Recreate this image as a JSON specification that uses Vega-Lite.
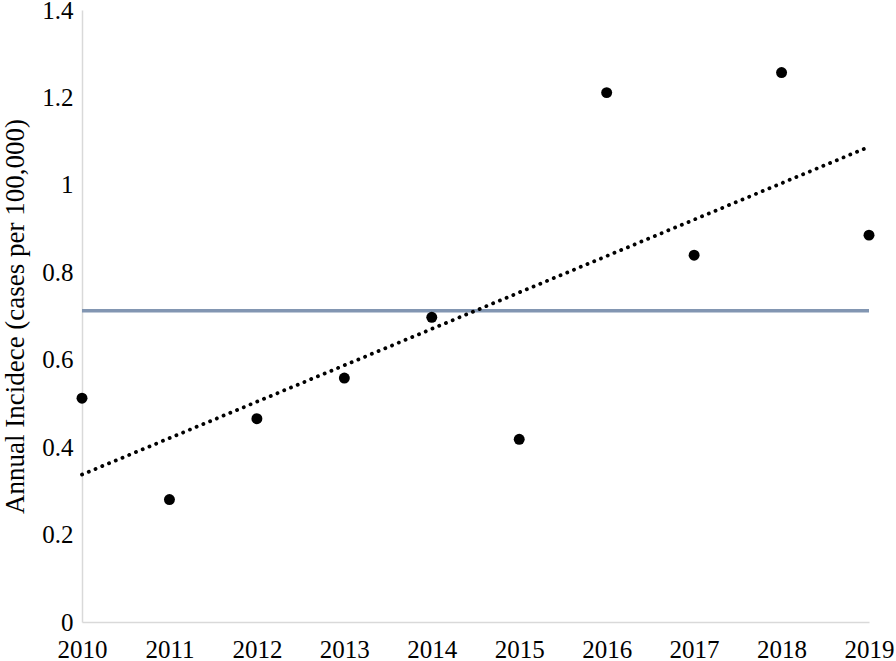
{
  "$schema": "https://vega.github.io/schema/vega-lite/v6.json",
  "width": 787,
  "height": 612,
  "autosize": "none",
  "padding": {"left": 82, "top": 10, "right": 27, "bottom": 39},
  "background": "white",
  "config": {
    "view": {"stroke": null},
    "font": "Liberation Serif",
    "axis": {
      "grid": false,
      "ticks": false,
      "domainColor": "#d9d9d9",
      "domainWidth": 1.5,
      "labelFont": "Liberation Serif",
      "labelFontSize": 25,
      "labelColor": "#000000",
      "titleFont": "Liberation Serif",
      "titleFontWeight": "normal",
      "titleColor": "#000000"
    }
  },
  "data": {
    "values": [
      {"year": 2010, "value": 0.512},
      {"year": 2011, "value": 0.280},
      {"year": 2012, "value": 0.465},
      {"year": 2013, "value": 0.558},
      {"year": 2014, "value": 0.697},
      {"year": 2015, "value": 0.418},
      {"year": 2016, "value": 1.211},
      {"year": 2017, "value": 0.839},
      {"year": 2018, "value": 1.257},
      {"year": 2019, "value": 0.885}
    ]
  },
  "layer": [
    {
      "mark": {"type": "rule", "color": "#8296b2", "strokeWidth": 3.5},
      "encoding": {
        "y": {"aggregate": "mean", "field": "value", "type": "quantitative", "scale": {"domain": [0, 1.4]}}
      }
    },
    {
      "transform": [
        {"regression": "value", "on": "year", "extent": [2010, 2019]}
      ],
      "mark": {"type": "line", "color": "#000000", "strokeWidth": 3.8, "strokeCap": "round", "strokeDash": [0.1, 7.2]},
      "encoding": {
        "x": {"field": "year", "type": "quantitative"},
        "y": {"field": "value", "type": "quantitative"}
      }
    },
    {
      "mark": {"type": "point", "filled": true, "shape": "circle", "color": "#000000", "opacity": 1, "size": 120},
      "encoding": {
        "x": {
          "field": "year",
          "type": "quantitative",
          "scale": {"domain": [2010, 2019], "nice": false, "zero": false},
          "axis": {"title": null, "values": [2010, 2011, 2012, 2013, 2014, 2015, 2016, 2017, 2018, 2019], "format": "d", "labelPadding": 15, "labelFlush": false, "labelFontSize": 25}
        },
        "y": {
          "field": "value",
          "type": "quantitative",
          "scale": {"domain": [0, 1.4], "nice": false},
          "axis": {"title": "Annual Incidece (cases per 100,000)", "titleFontSize": 27, "values": [0, 0.2, 0.4, 0.6, 0.8, 1, 1.2, 1.4], "format": "~g", "labelPadding": 9, "labelFontSize": 25, "titlePadding": 12}
        }
      }
    }
  ]
}
